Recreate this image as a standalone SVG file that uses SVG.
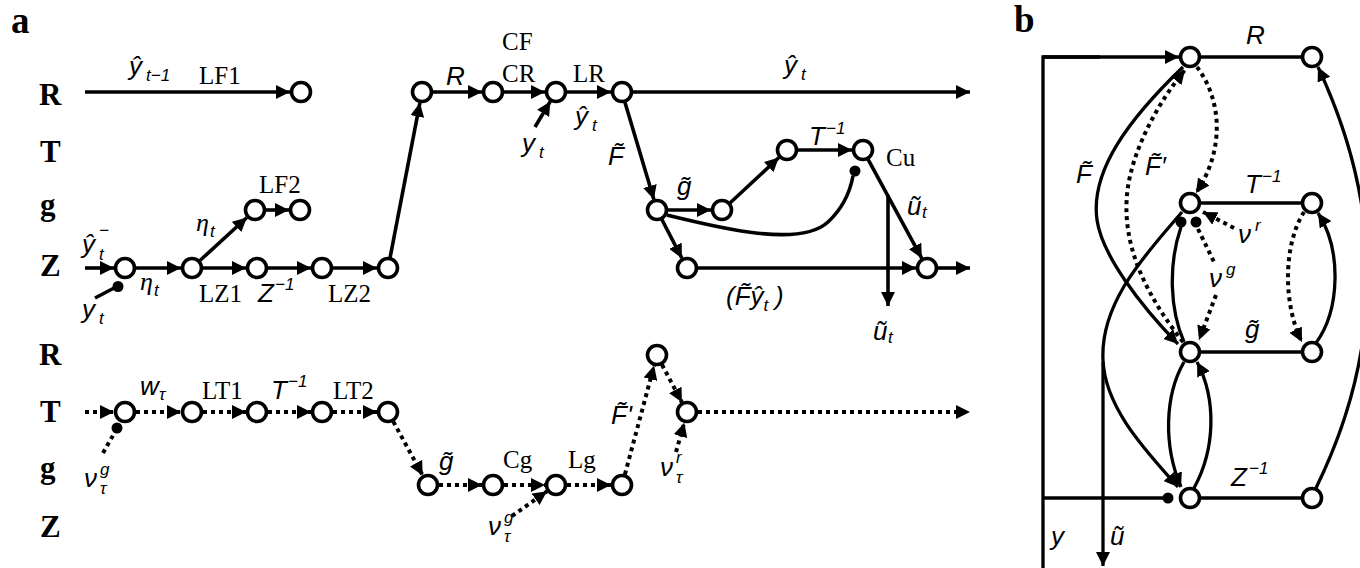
<svg xmlns="http://www.w3.org/2000/svg" width="1360" height="568" viewBox="0 0 1360 568">
<defs>
<marker id="ah" viewBox="0 0 14 14" refX="14" refY="7" markerWidth="14" markerHeight="14" markerUnits="userSpaceOnUse" orient="auto"><path d="M0,0 L14,7 L0,14 z" fill="#000"/></marker>
<style>
.s{fill:none;stroke:#000;stroke-width:3.6}
.sb{fill:none;stroke:#000;stroke-width:3.3}
.d{fill:none;stroke:#000;stroke-width:4;stroke-dasharray:4 4}
.a{marker-end:url(#ah)}
.n{fill:#fff;stroke:#000;stroke-width:3.6}
.dot{fill:#000}
.row{font-family:"Liberation Serif",serif;font-weight:bold;font-size:31px}
.pl{font-family:"Liberation Serif",serif;font-weight:bold;font-size:37px}
.sf{font-family:"Liberation Serif",serif;font-size:25px}
.it{font-family:"Liberation Sans","DejaVu Sans",sans-serif;font-style:italic;font-size:26px}
.sub{font-family:"Liberation Sans","DejaVu Sans",sans-serif;font-style:italic;font-size:17px}
.gr{font-family:"Liberation Serif","DejaVu Serif",serif;font-style:italic;font-size:26px}
</style>
</defs>
<rect width="1360" height="568" fill="#fff"/>

<g id="connectors">
<line class="s a" x1="85" y1="92" x2="290" y2="92"/>
<line class="s a" x1="85" y1="268" x2="114" y2="268"/>
<line class="s a" x1="136" y1="268" x2="181" y2="268"/>
<line class="s a" x1="203" y1="268" x2="246" y2="268"/>
<line class="s a" x1="268" y1="268" x2="311" y2="268"/>
<line class="s a" x1="333" y1="268" x2="377" y2="268"/>
<line class="s a" x1="200" y1="260.5" x2="246.9" y2="217.5"/>
<line class="s a" x1="266" y1="210" x2="289" y2="210"/>
<line class="s a" x1="390" y1="258" x2="419.9" y2="102.8"/>
<line class="s a" x1="433" y1="92" x2="482" y2="92"/>
<line class="s a" x1="504" y1="92" x2="545" y2="92"/>
<line class="s a" x1="567" y1="92" x2="611" y2="92"/>
<line class="s a" x1="633" y1="92" x2="970" y2="92"/>
<line class="s a" x1="535" y1="127" x2="550.3" y2="101.4"/>
<line class="s a" x1="625" y1="102.5" x2="653.9" y2="199.5"/>
<line class="s a" x1="668" y1="210" x2="711" y2="210"/>
<line class="s a" x1="730" y1="203" x2="778.9" y2="157.5"/>
<line class="s a" x1="798" y1="150" x2="852" y2="150"/>
<line class="s a" x1="867.8" y1="158.8" x2="921.8" y2="258.3"/>
<line class="s a" x1="888" y1="195" x2="888" y2="306"/>
<line class="s a" x1="661.6" y1="219" x2="681.9" y2="258.2"/>
<line class="s a" x1="698" y1="268" x2="916" y2="268"/>
<line class="s a" x1="938" y1="268" x2="970" y2="268"/>
<path class="s" d="M667,215 C720,228 800,248 828,222 C842,209 850,192 853,176"/>
<line class="s" x1="95" y1="298" x2="116" y2="287"/>
<circle class="dot" cx="855" cy="171" r="5.5"/>
<circle class="dot" cx="118" cy="286.5" r="5.5"/>
<line class="d a" x1="85" y1="412" x2="114" y2="412"/>
<line class="d a" x1="136" y1="412" x2="181" y2="412"/>
<line class="d a" x1="203" y1="412" x2="246" y2="412"/>
<line class="d a" x1="268" y1="412" x2="311" y2="412"/>
<line class="d a" x1="333" y1="412" x2="377" y2="412"/>
<line class="d" x1="103" y1="453" x2="115" y2="432"/>
<circle class="dot" cx="117" cy="428" r="5.5"/>
<line class="d a" x1="393.3" y1="421.6" x2="422.7" y2="475.4"/>
<line class="d a" x1="439" y1="485" x2="482" y2="485"/>
<line class="d a" x1="504" y1="485" x2="545" y2="485"/>
<line class="d a" x1="567" y1="485" x2="611" y2="485"/>
<line class="d a" x1="512" y1="516" x2="547" y2="491.3"/>
<line class="d a" x1="624.9" y1="474.4" x2="654.1" y2="365.6"/>
<line class="d a" x1="662" y1="364.7" x2="681.9" y2="402.3"/>
<line class="d a" x1="676" y1="452" x2="684.3" y2="422.7"/>
<line class="d a" x1="698" y1="412" x2="970" y2="412"/>
<polyline class="sb" points="1043,568 1043,57 1100,57"/>
<line class="sb a" x1="1043" y1="57" x2="1179" y2="57"/>
<line class="sb" x1="1190" y1="57" x2="1312" y2="57"/>
<line class="sb" x1="1190" y1="203" x2="1312" y2="203"/>
<line class="sb" x1="1190" y1="352" x2="1312" y2="352"/>
<line class="sb" x1="1190" y1="498" x2="1312" y2="498"/>
<line class="sb" x1="1043" y1="498" x2="1165" y2="498"/>
<circle class="dot" cx="1168" cy="498" r="5.5"/>
<line class="sb a" x1="1103" y1="362" x2="1103" y2="566"/>
<path class="sb a" d="M1183,67 C1130,118 1090,170 1097,220 C1102,255 1140,305 1178,344"/>
<path class="sb a" d="M1182,212 C1150,250 1100,300 1103,360 C1105,410 1150,455 1178,487"/>
<path class="d a" d="M1183,342 C1150,300 1122,250 1127,195 C1131,150 1160,100 1185,70"/>
<path class="d a" d="M1197,67 C1222,100 1225,150 1196,193"/>
<path class="sb" d="M1181,227 C1168,265 1170,310 1184,342"/>
<circle class="dot" cx="1181" cy="222" r="5.5"/>
<circle class="dot" cx="1196" cy="222" r="5.5"/>
<line class="d" x1="1198" y1="229" x2="1214" y2="262"/>
<line class="d a" x1="1216" y1="295" x2="1199" y2="340"/>
<line class="d a" x1="1234" y1="228" x2="1203" y2="212"/>
<path class="sb a" d="M1184,362 C1165,395 1163,445 1181,487"/>
<path class="sb a" d="M1194,488 C1215,450 1217,400 1197,362"/>
<path class="d a" d="M1304,212 C1283,245 1283,305 1302,342"/>
<path class="sb a" d="M1316,343 C1340,310 1342,250 1318,213"/>
<path class="sb a" d="M1316,488 Q1418,280 1318,67"/>
</g>

<g id="a-LF1"><circle class="n" cx="301" cy="92" r="9.5"/></g>
<g id="a-Z1"><circle class="n" cx="125" cy="268" r="9.5"/></g>
<g id="a-Z2"><circle class="n" cx="192" cy="268" r="9.5"/></g>
<g id="a-Z3"><circle class="n" cx="257" cy="268" r="9.5"/></g>
<g id="a-Z4"><circle class="n" cx="322" cy="268" r="9.5"/></g>
<g id="a-Z5"><circle class="n" cx="388" cy="268" r="9.5"/></g>
<g id="a-G1"><circle class="n" cx="255" cy="210" r="9.5"/></g>
<g id="a-G2"><circle class="n" cx="300" cy="210" r="9.5"/></g>
<g id="a-R1"><circle class="n" cx="422" cy="92" r="9.5"/></g>
<g id="a-R2"><circle class="n" cx="493" cy="92" r="9.5"/></g>
<g id="a-R3"><circle class="n" cx="556" cy="92" r="9.5"/></g>
<g id="a-R4"><circle class="n" cx="622" cy="92" r="9.5"/></g>
<g id="a-G3"><circle class="n" cx="657" cy="210" r="9.5"/></g>
<g id="a-G4"><circle class="n" cx="722" cy="210" r="9.5"/></g>
<g id="a-T1"><circle class="n" cx="787" cy="150" r="9.5"/></g>
<g id="a-T2"><circle class="n" cx="863" cy="150" r="9.5"/></g>
<g id="a-Z6"><circle class="n" cx="687" cy="268" r="9.5"/></g>
<g id="a-Z7"><circle class="n" cx="927" cy="268" r="9.5"/></g>
<g id="a-LT1"><circle class="n" cx="125" cy="412" r="9.5"/></g>
<g id="a-LT2"><circle class="n" cx="192" cy="412" r="9.5"/></g>
<g id="a-LT3"><circle class="n" cx="257" cy="412" r="9.5"/></g>
<g id="a-LT4"><circle class="n" cx="322" cy="412" r="9.5"/></g>
<g id="a-LT5"><circle class="n" cx="388" cy="412" r="9.5"/></g>
<g id="a-Lg1"><circle class="n" cx="428" cy="485" r="9.5"/></g>
<g id="a-Lg2"><circle class="n" cx="493" cy="485" r="9.5"/></g>
<g id="a-Lg3"><circle class="n" cx="556" cy="485" r="9.5"/></g>
<g id="a-Lg4"><circle class="n" cx="622" cy="485" r="9.5"/></g>
<g id="a-LR"><circle class="n" cx="657" cy="355" r="9.5"/></g>
<g id="a-LT6"><circle class="n" cx="687" cy="412" r="9.5"/></g>
<g id="b-R1"><circle class="n" cx="1190" cy="57" r="9.5"/></g>
<g id="b-R2"><circle class="n" cx="1312" cy="57" r="9.5"/></g>
<g id="b-T1"><circle class="n" cx="1190" cy="203" r="9.5"/></g>
<g id="b-T2"><circle class="n" cx="1312" cy="203" r="9.5"/></g>
<g id="b-g1"><circle class="n" cx="1190" cy="352" r="9.5"/></g>
<g id="b-g2"><circle class="n" cx="1312" cy="352" r="9.5"/></g>
<g id="b-Z1"><circle class="n" cx="1190" cy="498" r="9.5"/></g>
<g id="b-Z2"><circle class="n" cx="1312" cy="498" r="9.5"/></g>

<g id="labels">
<text class="pl" x="11" y="33">a</text>
<text class="pl" x="1014" y="32">b</text>
<text class="row" x="39" y="105">R</text>
<text class="row" x="40" y="162">T</text>
<text class="row" x="40" y="215">g</text>
<text class="row" x="40" y="276">Z</text>
<text class="row" x="39" y="365">R</text>
<text class="row" x="40" y="422">T</text>
<text class="row" x="40" y="478">g</text>
<text class="row" x="40" y="537">Z</text>

<text class="it" x="129" y="75">ŷ<tspan class="sub" x="146" y="81">t−1</tspan></text>
<text class="sf" x="199" y="84">LF1</text>
<text class="sf" x="259" y="193">LF2</text>
<text class="gr" x="196" y="231">η<tspan class="sub" x="210" y="237">t</tspan></text>
<text class="it" x="82" y="253">ŷ<tspan class="sub" x="99" y="236">−</tspan><tspan class="sub" x="99" y="260">t</tspan></text>
<text class="it" x="82" y="318">y<tspan class="sub" x="99" y="324">t</tspan></text>
<text class="gr" x="140" y="290">η<tspan class="sub" x="154" y="296">t</tspan></text>
<text class="sf" x="199" y="302">LZ1</text>
<text class="it" x="258" y="302">Z<tspan class="sub" x="275" y="290">−1</tspan></text>
<text class="sf" x="328" y="302">LZ2</text>

<text class="it" x="446" y="85">R</text>
<text class="sf" x="502" y="50">CF</text>
<text class="sf" x="502" y="82">CR</text>
<text class="sf" x="573" y="82">LR</text>
<text class="it" x="575" y="125">ŷ<tspan class="sub" x="592" y="131">t</tspan></text>
<text class="it" x="522" y="152">y<tspan class="sub" x="539" y="158">t</tspan></text>
<text class="it" x="784" y="74">ŷ<tspan class="sub" x="801" y="80">t</tspan></text>
<text class="it" x="608" y="165">F̃</text>
<text class="it" x="677" y="195">g̃</text>
<text class="it" x="809" y="145">T<tspan class="sub" x="826" y="134">−1</tspan></text>
<text class="sf" x="886" y="166">Cu</text>
<text class="it" x="907" y="215">ũ<tspan class="sub" x="922" y="218">t</tspan></text>
<text class="it" x="873" y="340">ũ<tspan class="sub" x="888" y="343">t</tspan></text>
<text class="it" x="726" y="305">(F̃ŷ<tspan class="sub" y="311">t</tspan><tspan x="775" y="305">)</tspan></text>

<text class="it" x="140" y="395">w<tspan class="sub" x="159" y="400">τ</tspan></text>
<text class="sf" x="202" y="399">LT1</text>
<text class="it" x="271" y="399">T<tspan class="sub" x="288" y="387">−1</tspan></text>
<text class="sf" x="333" y="399">LT2</text>
<text class="it" x="84" y="487">ν<tspan class="sub" x="100" y="475">g</tspan><tspan class="sub" x="100" y="494">τ</tspan></text>
<text class="it" x="439" y="470">g̃</text>
<text class="sf" x="503" y="468">Cg</text>
<text class="sf" x="568" y="468">Lg</text>
<text class="it" x="488" y="535">ν<tspan class="sub" x="504" y="523">g</tspan><tspan class="sub" x="504" y="542">τ</tspan></text>
<text class="it" x="611" y="424">F̃'</text>
<text class="it" x="660" y="476">ν<tspan class="sub" x="676" y="463">r</tspan><tspan class="sub" x="676" y="483">τ</tspan></text>

<text class="it" x="1246" y="44">R</text>
<text class="it" x="1245" y="193">T<tspan class="sub" x="1262" y="182">−1</tspan></text>
<text class="it" x="1238" y="243">ν<tspan class="sub" x="1255" y="231">r</tspan></text>
<text class="it" x="1209" y="287">ν<tspan class="sub" x="1226" y="275">g</tspan></text>
<text class="it" x="1245" y="338">g̃</text>
<text class="it" x="1231" y="486">Z<tspan class="sub" x="1249" y="474">−1</tspan></text>
<text class="it" x="1076" y="183">F̃</text>
<text class="it" x="1145" y="175">F̃′</text>
<text class="it" x="1051" y="545">y</text>
<text class="it" x="1110" y="545">ũ</text>
</g>
</svg>
